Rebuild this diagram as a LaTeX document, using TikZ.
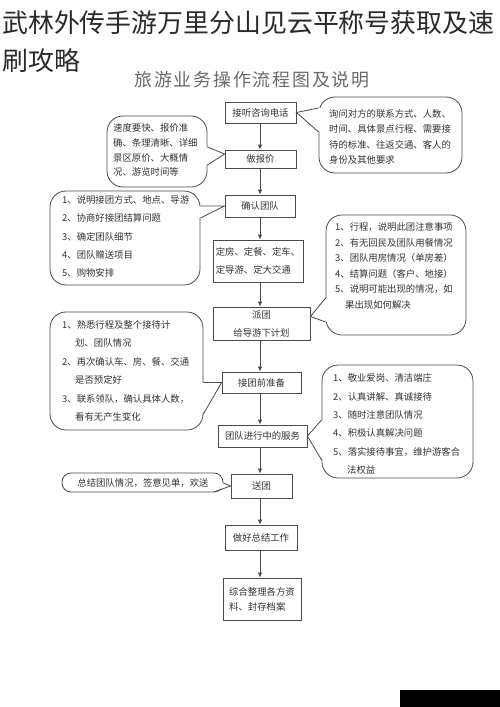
\documentclass[tikz,border=0pt]{standalone}
\usepackage{fontspec}
\setmainfont{Noto Sans CJK SC}
\usetikzlibrary{arrows.meta,calc}
\definecolor{linegray}{HTML}{4A4A4A}
\definecolor{txtgray}{HTML}{333333}
\definecolor{subgray}{HTML}{6A6A6A}
\definecolor{titlegray}{HTML}{2A2A2A}
\begin{document}
\begin{tikzpicture}[x=1bp,y=-1bp,
  box/.style={draw=linegray, line width=0.8bp, fill=white, text=txtgray, inner sep=0pt, font=\fontsize{9.4}{18}\selectfont},
  callout/.style={draw=linegray, line width=0.8bp, fill=white, rounded corners=16bp, inner sep=0pt},
  ctext/.style={text=txtgray, inner sep=0pt, align=left, anchor=west},
  arr/.style={draw=linegray, line width=0.8bp, -{Latex[length=5bp,width=4.5bp]}},
  ptr/.style={draw=linegray, line width=0.8bp, line join=miter}]
\useasboundingbox (0,0) rectangle (500,707);
\fill[white] (0,0) rectangle (500,707);

% title
\node[anchor=west, inner sep=0pt, text=titlegray, font=\fontsize{26}{30}\selectfont] (title1) at (2,23) {武林外传手游万里分山见云平称号获取及速};
\node[anchor=west, inner sep=0pt, text=titlegray, font=\fontsize{26}{30}\selectfont] (title2) at (2,61) {刷攻略};
\node[inner sep=0pt, text=subgray, font=\fontsize{18}{20}\selectfont\addfontfeature{LetterSpace=10}] (sub) at (252,80) {旅游业务操作流程图及说明};

% main boxes
\node[box, minimum width=71bp, minimum height=21bp] (b1) at (260.5,112.5) {接听咨询电话};
\node[box, minimum width=71bp, minimum height=18bp] (b2) at (260.5,159) {做报价};
\node[box, minimum width=70bp, minimum height=22bp] (b3) at (260,206) {确认团队};
\node[box, minimum width=90bp, minimum height=42bp, align=left] (b4) at (258,261) {定房、定餐、定车、\\定导游、定大交通};
\node[box, minimum width=97bp, minimum height=33bp, align=center] (b5) at (261.5,323.5) {派团\\给导游下计划};
\node[box, minimum width=79bp, minimum height=21bp] (b6) at (261.5,382.5) {接团前准备};
\node[box, minimum width=89bp, minimum height=22bp] (b7) at (262.5,436) {团队进行中的服务};
\node[box, minimum width=61bp, minimum height=24bp] (b8) at (261.5,486) {送团};
\node[box, minimum width=72bp, minimum height=25bp] (b9) at (261,537.5) {做好总结工作};
\node[box, minimum width=78bp, minimum height=42bp, align=left, font=\fontsize{9.4}{15}\selectfont] (b10) at (262,599) {综合整理各方资\\料、封存档案};

\coordinate (axis) at (260,0);
\draw[arr] (b1.south -| axis) -- (b2.north -| axis);
\draw[arr] (b2.south -| axis) -- (b3.north -| axis);
\draw[arr] (b3.south -| axis) -- (b4.north -| axis);
\draw[arr] (b4.south -| axis) -- (b5.north -| axis);
\draw[arr] (b5.south -| axis) -- (b6.north -| axis);
\draw[arr] (b6.south -| axis) -- (b7.north -| axis);
\draw[arr] (b7.south -| axis) -- (b8.north -| axis);
\draw[arr] (b8.south -| axis) -- (b9.north -| axis);
\draw[arr] (b9.south -| axis) -- (b10.north -| axis);

% callouts
\node[callout, minimum width=143bp, minimum height=76bp] (c1) at (390.5,135) {};
\node[callout, minimum width=100bp, minimum height=71bp] (c2) at (157,151.5) {};
\node[callout, minimum width=150bp, minimum height=94bp] (c3) at (125,238) {};
\node[callout, minimum width=140bp, minimum height=120bp] (c4) at (396,275) {};
\node[callout, minimum width=153bp, minimum height=118bp] (c5) at (126.5,371) {};
\node[callout, minimum width=151bp, minimum height=113bp] (c6) at (397.5,421.5) {};
\node[callout, rounded corners=9bp, minimum width=161bp, minimum height=19bp] (c7) at (142.5,482.5) {};

% pointers
\coordinate (p1a) at (c1.west |- 0,108);
\coordinate (p1b) at (c1.west |- 0,132);
\fill[white] ($(p1a)+(1.5,0)$) -- (b1.east) -- ($(p1b)+(1.5,0)$) -- cycle;
\draw[ptr] (p1a) -- (b1.east) -- (p1b);

\coordinate (p2a) at (c2.east |- 0,147);
\coordinate (p2b) at (c2.east |- 0,165);
\coordinate (t2tip) at ([yshift=5bp]b2.west);
\fill[white] ($(p2a)+(-1.5,0)$) -- (t2tip) -- ($(p2b)+(-1.5,0)$) -- cycle;
\draw[ptr] (p2a) -- (t2tip) -- (p2b);

\coordinate (p3a) at (c3.east |- 0,206);
\coordinate (p3b) at (c3.east |- 0,218);
\fill[white] ($(p3a)+(-1.5,0)$) -- (b3.west) -- ($(p3b)+(-1.5,0)$) -- cycle;
\draw[ptr] (p3a) -- (b3.west) -- (p3b);

\coordinate (p4a) at (c4.west |- 0,298);
\coordinate (p4b) at (c4.west |- 0,322);
\coordinate (t4tip) at ([yshift=7bp]b5.east);
\fill[white] ($(p4a)+(1.5,0)$) -- (t4tip) -- ($(p4b)+(1.5,0)$) -- cycle;
\draw[ptr] (p4a) -- (t4tip) -- (p4b);

\coordinate (p5a) at (c5.east |- 0,382.5);
\coordinate (p5b) at (c5.east |- 0,414);
\fill[white] ($(p5a)+(-1.5,0)$) -- (b6.west) -- ($(p5b)+(-1.5,0)$) -- cycle;
\draw[ptr] (p5a) -- (b6.west) -- (p5b);

\coordinate (p6a) at (c6.west |- 0,420);
\coordinate (p6b) at (c6.west |- 0,460);
\fill[white] ($(p6a)+(1.5,0)$) -- (b7.east) -- ($(p6b)+(1.5,0)$) -- cycle;
\draw[ptr] (p6a) -- (b7.east) -- (p6b);

\coordinate (p7a) at (c7.east |- 0,483);
\coordinate (p7b) at (214,492);
\fill[white] ($(p7a)+(-1.5,0)$) -- (b8.west) -- ($(p7b)+(0,-1.5)$) -- cycle;
\draw[ptr] (p7a) -- (b8.west) -- (p7b);

% callout texts
\node[ctext, font=\fontsize{9.4}{15.6}\selectfont] (t1) at (329,137) {询问对方的联系方式、人数、\\时间、具体景点行程、需要接\\待的标准、往返交通、客人的\\身份及其他要求};
\node[ctext, font=\fontsize{9.4}{15}\selectfont] (t2) at (113,150) {速度要快、报价准\\确、条理清晰、详细\\景区原价、大概情\\况、游览时间等};
\node[ctext, font=\fontsize{9.4}{18.3}\selectfont] (t3) at (62,236.6) {1、说明接团方式、地点、导游\\2、协商好接团结算问题\\3、确定团队细节\\4、团队赠送项目\\5、购物安排};
\node[ctext, font=\fontsize{9.4}{15.6}\selectfont] (t4) at (335,265.8) {1、行程，说明此团注意事项\\2、有无回民及团队用餐情况\\3、团队用房情况（单房差）\\4、结算问题（客户、地接）\\5、说明可能出现的情况，如\\\hspace*{10bp}果出现如何解决};
\node[ctext, font=\fontsize{9.4}{18.6}\selectfont] (t5) at (62,370.8) {1、熟悉行程及整个接待计\\\hspace*{13bp}划、团队情况\\2、再次确认车、房、餐、交通\\\hspace*{13bp}是否预定好\\3、联系领队，确认具体人数，\\\hspace*{13bp}看有无产生变化};
\node[ctext, font=\fontsize{9.4}{18.4}\selectfont] (t6) at (333,424) {1、敬业爱岗、清洁端庄\\2、认真讲解、真诚接待\\3、随时注意团队情况\\4、积极认真解决问题\\5、落实接待事宜，维护游客合\\\hspace*{14bp}法权益};
\node[text=txtgray, inner sep=0pt, font=\fontsize{9.4}{12}\selectfont] (t7) at (143,483) {总结团队情况，签意见单，欢送};

% dark strip at the bottom right
\fill[black] (400,690) rectangle (500,707);
\end{tikzpicture}
\end{document}
